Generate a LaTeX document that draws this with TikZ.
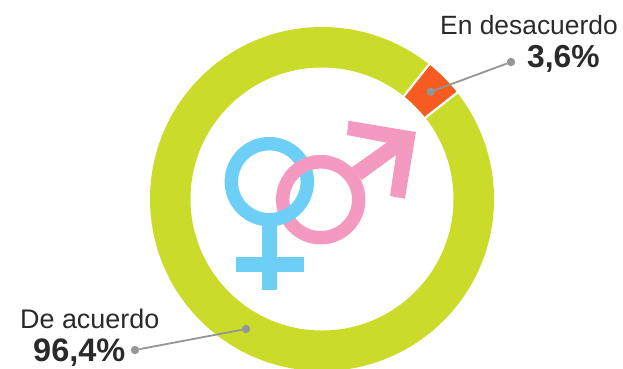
\documentclass[tikz,border=0pt]{standalone}
\usepackage{fontspec}
\usetikzlibrary{calc}
\setmainfont{Liberation Sans}
\definecolor{ringgreen}{HTML}{CBDB2A}
\definecolor{wedgeorange}{HTML}{F65C22}
\definecolor{femaleblue}{HTML}{6DCFF6}
\definecolor{malepink}{HTML}{F49AC1}
\definecolor{leadergray}{HTML}{939598}
\definecolor{textdark}{HTML}{2B2A2B}
\tikzset{
  leaderdot/.style={circle,fill=leadergray,inner sep=0pt,minimum size=8.4pt},
  leaderline/.style={draw=leadergray,line width=1.8pt},
  lbl/.style={anchor=base west,inner sep=0pt,text=textdark,font=\fontsize{26.4}{30}\selectfont},
  lblb/.style={anchor=base west,inner sep=0pt,text=textdark,font=\fontsize{26.9}{30}\selectfont},
  val/.style={anchor=base west,inner sep=0pt,text=textdark,font=\fontsize{31.8}{36}\selectfont\bfseries},
  valb/.style={anchor=base west,inner sep=0pt,text=textdark,font=\fontsize{32.5}{36}\selectfont\bfseries},
}
\begin{document}
\begin{tikzpicture}[x=1pt,y=1pt]
\useasboundingbox (0,-368) rectangle (623,0);
\clip (0,-368) rectangle (623,0);
% ring
\coordinate (cc) at (322,-199);
\fill[ringgreen,even odd rule] (cc) circle[radius=172pt] (cc) circle[radius=131.5pt];
% orange sector
\fill[wedgeorange] ($(cc)+(38.2:172pt)$) arc[start angle=38.2,end angle=51.5,radius=172pt] -- ($(cc)+(51.5:131.5pt)$) arc[start angle=51.5,end angle=38.2,radius=131.5pt] -- cycle;
\draw[white,line width=2.2pt] ($(cc)+(38.2:129pt)$) -- ($(cc)+(38.2:175pt)$);
\draw[white,line width=2.2pt] ($(cc)+(51.5:129pt)$) -- ($(cc)+(51.5:175pt)$);
% male symbol
\fill[malepink] (348.3,-120.7) -- (416,-132) -- (405,-198.7) -- (390,-196) -- (396,-155) -- (361.7,-180) -- (351.7,-167.3) -- (386.7,-142.7) -- (347,-135) -- cycle;
\draw[malepink,line width=13.4pt] (320.7,-199.7) circle[radius=38pt];
% female symbol
\fill[femaleblue] (262,-215) rectangle (277.3,-290);
\fill[femaleblue] (236,-257) rectangle (304,-272.3);
\draw[femaleblue,line width=13.4pt] (269.3,-181.7) circle[radius=38pt];
% pink passes over blue at the upper crossing
\begin{scope}
\clip (285,-130) rectangle (330,-180);
\draw[malepink,line width=13.4pt] (320.7,-199.7) circle[radius=38pt];
\end{scope}
% labels
\node[lbl] (lblno) at (440,-34.3) {En desacuerdo};
\node[val] (valno) at (527,-67.5) {3,6\%};
\node[lblb] (lblyes) at (20,-328) {De acuerdo};
\node[valb] (valyes) at (33,-361.5) {96,4\%};
% leaders
\node[leaderdot] (dotnoa) at (430.7,-91.7) {};
\node[leaderdot] (dotnob) at (511,-62) {};
\node[leaderdot] (dotyesa) at (246,-329) {};
\node[leaderdot] (dotyesb) at (135,-350) {};
\draw[leaderline] (dotnoa) -- (dotnob);
\draw[leaderline] (dotyesa) -- (dotyesb);
\end{tikzpicture}
\end{document}
